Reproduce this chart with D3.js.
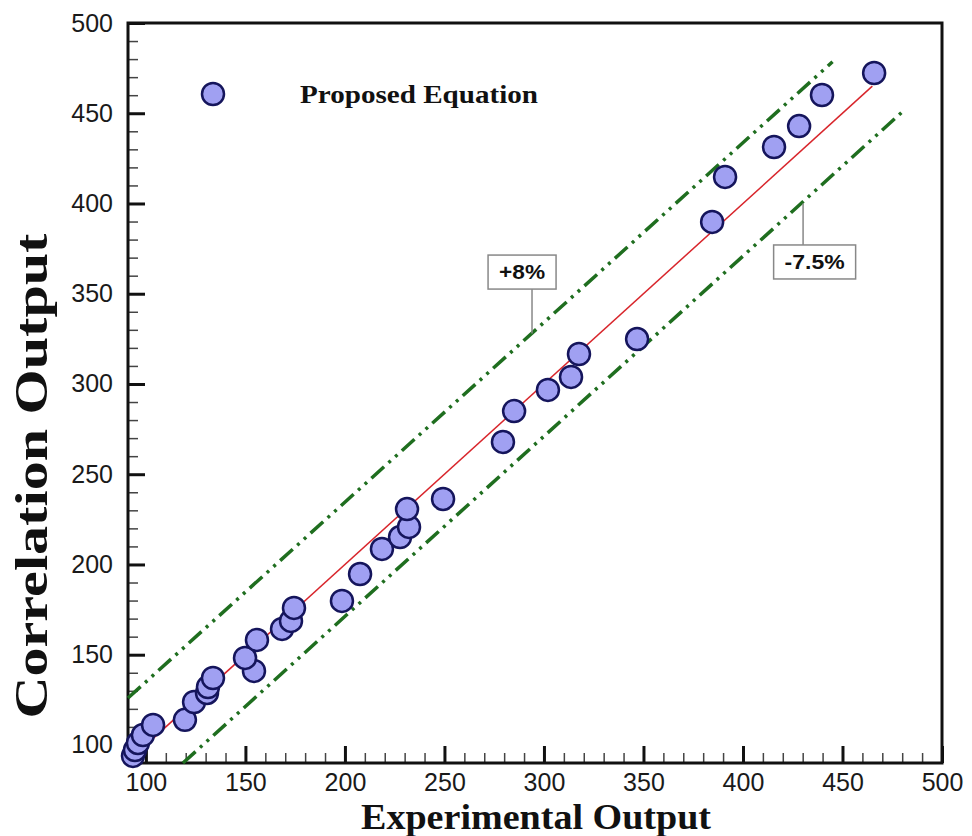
<!DOCTYPE html>
<html lang="en">
<head>
<meta charset="UTF-8" />
<title>Correlation Output vs Experimental Output</title>
<script src="https://d3js.org/d3.v7.min.js"></script>
<style>
  body { margin: 0; background: #fff; }
  svg { display: block; }
  .tick text {
    font-family: "Liberation Sans", Arial, sans-serif;
    font-size: 25px;
    fill: #1a1a1a;
  }
  .axis-title {
    font-family: "Liberation Serif", "Times New Roman", serif;
    font-weight: bold;
    fill: #111;
  }
  .legend-text {
    font-family: "Liberation Serif", "Times New Roman", serif;
    font-weight: bold;
    font-size: 26px;
    fill: #111;
  }
  .band-label {
    font-family: "Liberation Sans", Arial, sans-serif;
    font-weight: bold;
    font-size: 20px;
    fill: #111;
  }
  .point {
    fill: #a0a0f2;
    stroke: #15155c;
    stroke-width: 2.5px;
  }
</style>
</head>
<body>
<svg id="chart" width="972" height="836"></svg>
<script>
// experimental values (x) and the correlation output for each (y)
const experimental = [93.5, 94.5, 96, 98.5, 103.6, 119.6, 124.2, 130.7, 131.2, 133.7,
  154.3, 149.8, 155.8, 168.4, 172.9, 174.4, 198.5, 207.6, 218.6, 227.7,
  232.2, 231.2, 249.3, 279.4, 285, 302, 313.6, 317.6, 346.8, 384.5,
  391, 415.6, 428.2, 439.7, 465.9];
const correlation = [93.9, 97.2, 101.1, 105.5, 111.1, 113.9, 123.8, 128.8, 132.1, 137.1,
  141, 148.2, 158.2, 164.3, 168.7, 175.9, 179.8, 194.7, 208.6, 215.2,
  220.8, 230.7, 236.3, 267.9, 285, 296.7, 303.9, 316.6, 324.9, 389.8,
  414.7, 431.3, 442.9, 460.1, 472.3];

const xTicks = [100, 150, 200, 250, 300, 350, 400, 450, 500];
const yTicks = [100, 150, 200, 250, 300, 350, 400, 450, 500];

// reference lines, end points in data units
const idealLine = [[92, 92], [465, 465]];
const upperBand = [[91, 126], [445, 478.5]];
const lowerBand = [[118.6, 90], [480, 450.7]];

// labels on the bands: anchor on the line, box centre
const bandLabels = [
  { text: "+8%", ax: 294, ay: 328, bx: 289, by: 362, len: 46 },
  { text: "-7.5%", ax: 430.2, ay: 400, bx: 436, by: 367.6, len: 60 }
];

const legendLabel = "Proposed Equation";

const margin = { top: 23, right: 30, bottom: 73, left: 128 };
const W = 972, H = 836;
const w = W - margin.left - margin.right;
const h = H - margin.top - margin.bottom;

const svg = d3.select("#chart");
const g = svg.append("g").attr("transform", `translate(${margin.left},${margin.top})`);

const x = d3.scaleLinear().domain([91, 500]).range([0, w]);
const y = d3.scaleLinear().domain([90, 500]).range([h, 0]);

const minorX = d3.range(100, 500, 10).filter(v => v % 50 !== 0);
const minorY = d3.range(100, 500, 10).filter(v => v % 50 !== 0);

// minor ticks (inside)
g.append("g")
  .attr("transform", `translate(0,${h})`)
  .call(d3.axisBottom(x).tickValues(minorX).tickSizeInner(-10).tickSizeOuter(0).tickFormat(""))
  .call(a => a.select(".domain").remove())
  .call(a => a.selectAll("line").attr("stroke", "#444").attr("stroke-width", 1.5));
g.append("g")
  .call(d3.axisLeft(y).tickValues(minorY).tickSizeInner(-10).tickSizeOuter(0).tickFormat(""))
  .call(a => a.select(".domain").remove())
  .call(a => a.selectAll("line").attr("stroke", "#444").attr("stroke-width", 1.5));

// major ticks
g.append("g")
  .attr("transform", `translate(0,${h})`)
  .call(d3.axisBottom(x).tickValues(xTicks).tickSizeInner(-17).tickSizeOuter(0).tickPadding(10))
  .call(a => a.select(".domain").remove())
  .call(a => a.selectAll("line").attr("stroke", "#111").attr("stroke-width", 3));
g.append("g")
  .call(d3.axisLeft(y).tickValues(yTicks).tickSizeInner(-17).tickSizeOuter(0).tickPadding(15))
  .call(a => a.select(".domain").remove())
  .call(a => a.selectAll("line").attr("stroke", "#111").attr("stroke-width", 3));

// frame
g.append("rect")
  .attr("width", w).attr("height", h)
  .attr("fill", "none").attr("stroke", "#111").attr("stroke-width", 3);

const line = d3.line().x(d => x(d[0])).y(d => y(d[1]));

g.append("path").datum(upperBand)
  .attr("d", line).attr("fill", "none")
  .attr("stroke", "#1f6e1f").attr("stroke-width", 3.5)
  .attr("stroke-dasharray", "17,6,3,6,3,6");
g.append("path").datum(lowerBand)
  .attr("d", line).attr("fill", "none")
  .attr("stroke", "#1f6e1f").attr("stroke-width", 3.5)
  .attr("stroke-dasharray", "17,6,3,6,3,6");
g.append("path").datum(idealLine)
  .attr("d", line).attr("fill", "none")
  .attr("stroke", "#d8252b").attr("stroke-width", 1.5);

// band labels
bandLabels.forEach(b => {
  g.append("line")
    .attr("x1", x(b.ax)).attr("y1", y(b.ay))
    .attr("x2", x(b.ax)).attr("y2", y(b.by))
    .attr("stroke", "#888").attr("stroke-width", 1.5);
  g.append("rect")
    .attr("x", x(b.bx) - b.len / 2 - 11).attr("y", y(b.by) - 17)
    .attr("width", b.len + 22).attr("height", 34)
    .attr("fill", "#fff").attr("stroke", "#888").attr("stroke-width", 1.5);
  g.append("text")
    .attr("class", "band-label")
    .attr("x", x(b.bx)).attr("y", y(b.by))
    .attr("text-anchor", "middle").attr("dy", "0.36em")
    .attr("textLength", b.len).attr("lengthAdjust", "spacingAndGlyphs")
    .text(b.text);
});

// points
g.selectAll("circle.point")
  .data(experimental.map((v, i) => [v, correlation[i]]))
  .enter()
  .append("circle")
  .attr("class", "point")
  .attr("cx", d => x(d[0]))
  .attr("cy", d => y(d[1]))
  .attr("r", 11);

// legend
const legend = g.append("g").attr("transform", "translate(85,71)");
legend.append("circle").attr("class", "point").attr("r", 11);
legend.append("text").attr("class", "legend-text")
  .attr("x", 87).attr("y", 9)
  .attr("textLength", 238).attr("lengthAdjust", "spacingAndGlyphs")
  .text(legendLabel);

// axis titles
svg.append("text")
  .attr("class", "axis-title")
  .attr("x", 536).attr("y", 829)
  .attr("text-anchor", "middle")
  .style("font-size", "36px")
  .attr("textLength", 350).attr("lengthAdjust", "spacingAndGlyphs")
  .text("Experimental Output");

svg.append("text")
  .attr("class", "axis-title")
  .attr("transform", "translate(47,476) rotate(-90)")
  .attr("text-anchor", "middle")
  .style("font-size", "46px")
  .attr("textLength", 485).attr("lengthAdjust", "spacingAndGlyphs")
  .text("Correlation Output");
</script>
</body>
</html>
